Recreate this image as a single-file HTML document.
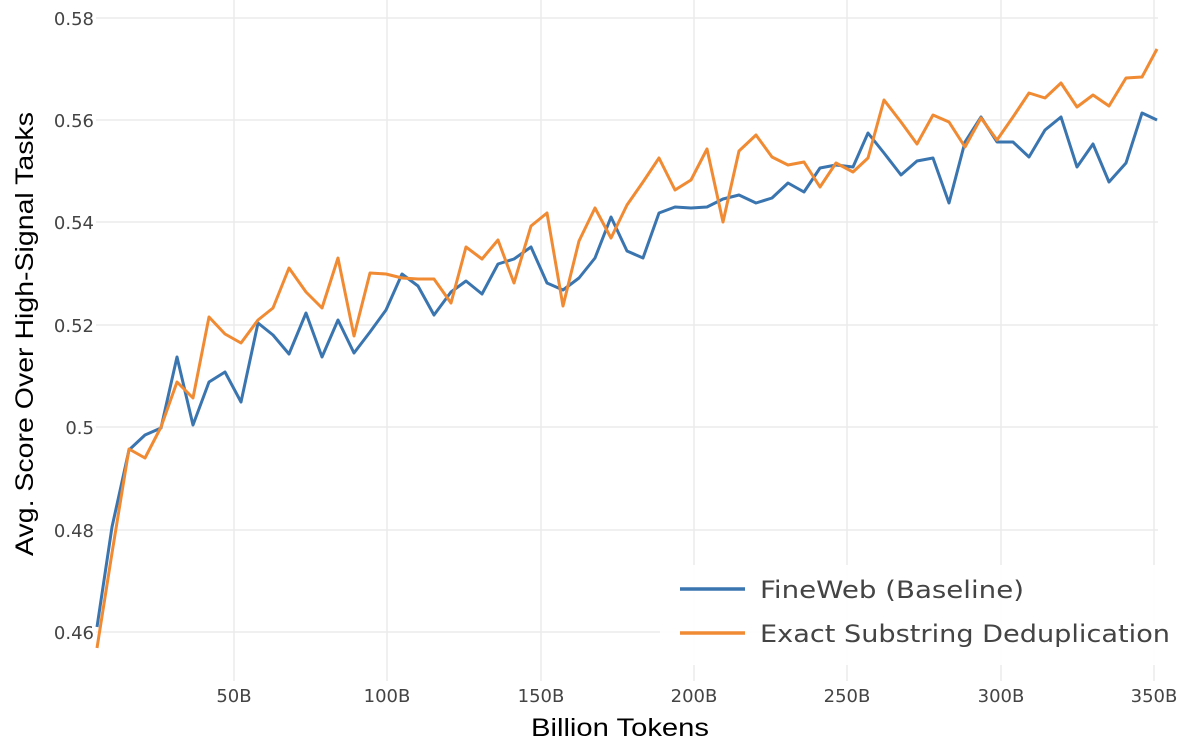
<!DOCTYPE html><html><head><style>body{margin:0;background:#fff}svg{display:block;font-family:"Liberation Sans",sans-serif}</style></head><body>
<svg width="1188" height="742" xmlns="http://www.w3.org/2000/svg">
<g stroke="#ebebeb" stroke-width="1.5">
<line x1="96" x2="1158" y1="18" y2="18"/><line x1="96" x2="1158" y1="120" y2="120"/><line x1="96" x2="1158" y1="222" y2="222"/><line x1="96" x2="1158" y1="325" y2="325"/><line x1="96" x2="1158" y1="427" y2="427"/><line x1="96" x2="1158" y1="530" y2="530"/><line x1="96" x2="1158" y1="632" y2="632"/>
<line x1="234" x2="234" y1="0" y2="681"/><line x1="387" x2="387" y1="0" y2="681"/><line x1="541" x2="541" y1="0" y2="681"/><line x1="694" x2="694" y1="0" y2="681"/><line x1="847" x2="847" y1="0" y2="681"/><line x1="1001" x2="1001" y1="0" y2="681"/><line x1="1154" x2="1154" y1="0" y2="681"/>
</g>
<g font-size="18" fill="#444" text-anchor="end" font-family="'DejaVu Sans',sans-serif">
<text x="94" y="25">0.58</text><text x="94" y="127">0.56</text><text x="94" y="229">0.54</text><text x="94" y="332">0.52</text><text x="94" y="434">0.5</text><text x="94" y="537">0.48</text><text x="94" y="639">0.46</text>
</g>
<g font-size="18" fill="#444" text-anchor="middle" font-family="'DejaVu Sans',sans-serif">
<text x="234" y="702">50B</text><text x="387" y="702">100B</text><text x="541" y="702">150B</text><text x="694" y="702">200B</text><text x="847" y="702">250B</text><text x="1001" y="702">300B</text><text x="1154" y="702">350B</text>
</g>
<text x="620" y="736" font-size="25" text-anchor="middle" fill="#000" textLength="178" lengthAdjust="spacingAndGlyphs">Billion Tokens</text>
<text transform="translate(33,334) rotate(-90)" font-size="25" text-anchor="middle" fill="#000" textLength="444" lengthAdjust="spacingAndGlyphs">Avg. Score Over High-Signal Tasks</text>
<polyline fill="none" stroke="#3a75b0" stroke-width="3" stroke-linejoin="round" points="97,627 112,527 129,450 145,435 161,428 177,357 193,425 209,382 225,372 241,402 258,323 273,335 289,354 306,313 322,357 338,320 354,353 370,332 386,310 402,274 418,286 434,315 451,292 466,281 482,294 498,264 514,259 531,247 547,283 563,290 579,278 595,258 611,217 627,251 643,258 659,213 675,207 691,208 707,207 723,199 739,195 756,203 772,198 788,183 804,192 820,168 836,165 853,167 868,133 884,153 901,175 917,161 933,158 949,203 965,142 981,117 997,142 1013,142 1029,157 1045,130 1061,117 1077,167 1093,144 1109,182 1126,163 1142,113 1157,120"/>
<polyline fill="none" stroke="#f08a33" stroke-width="3" stroke-linejoin="round" points="97,648 112,553 129,449 145,458 161,427 177,382 193,398 209,317 225,334 241,343 258,320 273,308 289,268 306,292 322,308 338,258 354,336 370,273 386,274 402,278 418,279 434,279 451,303 466,247 482,259 498,240 514,283 531,226 547,213 563,306 579,241 595,208 611,238 627,205 643,182 659,158 675,190 691,180 707,149 723,222 739,151 756,135 772,157 788,165 804,162 820,187 836,163 853,172 868,158 884,100 901,122 917,144 933,115 949,122 965,147 981,118 997,140 1013,117 1029,93 1045,98 1061,83 1077,107 1093,95 1109,106 1126,78 1142,77 1157,49"/>
<rect x="660" y="565" width="510" height="100" fill="#fff" opacity="0.9"/>
<line x1="680" x2="745" y1="589" y2="589" stroke="#3a75b0" stroke-width="3.5"/>
<line x1="680" x2="745" y1="633" y2="633" stroke="#f08a33" stroke-width="3.5"/>
<g font-size="24" fill="#444" font-family="'DejaVu Sans',sans-serif"><text x="760" y="598" textLength="264" lengthAdjust="spacingAndGlyphs">FineWeb (Baseline)</text><text x="760" y="642" textLength="410" lengthAdjust="spacingAndGlyphs">Exact Substring Deduplication</text></g>
</svg></body></html>
